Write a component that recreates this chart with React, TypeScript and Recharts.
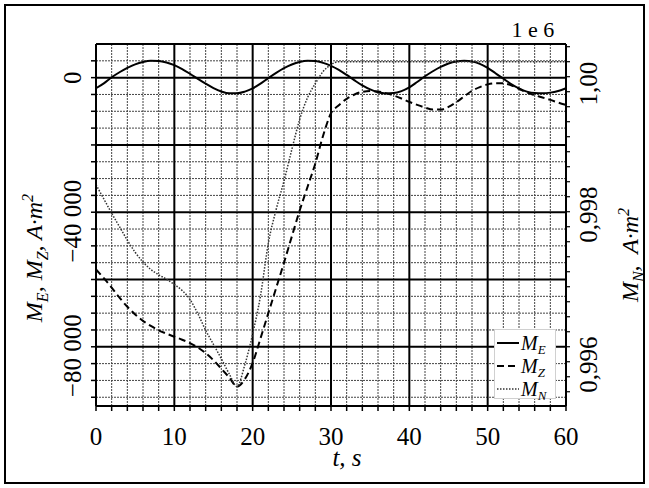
import React from 'react';
import { LineChart, Line, XAxis, YAxis, ReferenceLine, Legend, Label } from 'recharts';

const FONT = '"Liberation Serif", "Times New Roman", serif';

// time, s
const time = [
  0, 1, 2, 3, 4, 5, 6, 7, 8, 9, 10, 11, 12, 13, 14, 15, 16, 17, 18, 19, 20,
  21, 22, 23, 24, 25, 26, 27, 28, 29, 30, 31, 32, 33, 34, 35, 36, 37, 38, 39, 40,
  41, 42, 43, 44, 45, 46, 47, 48, 49, 50, 51, 52, 53, 54, 55, 56, 57, 58, 59, 60,
];

// M_E, A·m²
const mE = [
  -3150, -1700, 100, 1600, 2900, 3950, 4650, 5000, 4950, 4500, 3700,
  2550, 1150, -350, -1800, -3100, -4100, -4650, -4650, -4150, -3200,
  -1800, -150, 1400, 2800, 3900, 4650, 5000, 4950, 4400, 3500,
  2300, 800, -800, -2300, -3500, -4350, -4700, -4600, -4000, -2900,
  -1300, 400, 1900, 3200, 4200, 4800, 5000, 4800, 4100, 2900,
  1300, -300, -1900, -3200, -4150, -4600, -4650, -4450, -3950, -3150,
];

// M_Z, A·m²
const mZ = [
  -57000, -59600, -62400, -65400, -68100, -70400, -72300, -73800, -75100, -76100, -77000,
  -77900, -78900, -80200, -81900, -84000, -86500, -89100, -91800, -89600, -84800,
  -77500, -70000, -62500, -55000, -47200, -39500, -32500, -25500, -17200, -10600,
  -8200, -6300, -5000, -4200, -4000, -4100, -4600, -5300, -6200, -7200,
  -8100, -8900, -9500, -9500, -8700, -7300, -5600, -3900, -2800, -2000,
  -1700, -1700, -2300, -3300, -4400, -5200, -5900, -6600, -7400, -8100,
];

// M_N, ×1e6 A·m²
const mN = [
  0.99836, 0.99817, 0.99798, 0.9978, 0.99762, 0.99746, 0.99733, 0.99723, 0.99716, 0.9971, 0.99703,
  0.99695, 0.99683, 0.99664, 0.99642, 0.99623, 0.99604, 0.99584, 0.99567, 0.99596, 0.99637,
  0.99688, 0.99758, 0.99803, 0.99841, 0.99883, 0.99923, 0.99952, 0.99971, 0.99987, 0.99996,
  1, 1, 1, 1, 1, 1, 1, 1, 1, 1,
  1, 1, 1, 1, 1, 1, 1, 1, 1, 1,
  1, 1, 1, 1, 1, 1, 1, 1, 1, 1,
];

const xTicks = [0, 2, 4, 6, 8, 10, 12, 14, 16, 18, 20, 22, 24, 26, 28, 30, 32, 34, 36, 38, 40, 42, 44, 46, 48, 50, 52, 54, 56, 58, 60];
const xMajor = [0, 10, 20, 30, 40, 50, 60];
const xMinor = [2, 4, 6, 8, 12, 14, 16, 18, 22, 24, 26, 28, 32, 34, 36, 38, 42, 44, 46, 48, 52, 54, 56, 58];

const leftTicks = [5000, 0, -5000, -10000, -15000, -20000, -25000, -30000, -35000, -40000, -45000, -50000, -55000, -60000, -65000, -70000, -75000, -80000, -85000, -90000, -95000];
const leftLabels = [0, -40000, -80000];
const yMajor = [0, -20000, -40000, -60000, -80000];
const yMinor = [5000, -5000, -10000, -15000, -25000, -30000, -35000, -45000, -50000, -55000, -65000, -70000, -75000, -85000, -90000, -95000];

const rightTicks = [0.9956, 0.9958, 0.996, 0.9962, 0.9964, 0.9966, 0.9968, 0.997, 0.9972, 0.9974, 0.9976, 0.9978, 0.998, 0.9982, 0.9984, 0.9986, 0.9988, 0.999, 0.9992, 0.9994, 0.9996, 0.9998, 1, 1.0002];
const rightLabels = ['0,996', '0,998', '1,00'];
const rightLabelValues = [0.996, 0.998, 1];

const data = time.map((t, i) => ({ t, mE: mE[i], mZ: mZ[i], mN: mN[i] }));

const series = [
  { key: 'mE', sub: 'E', axis: 'left', dash: undefined, width: 2, color: '#000' },
  { key: 'mZ', sub: 'Z', axis: 'left', dash: '7 4', width: 2, color: '#000' },
  { key: 'mN', sub: 'N', axis: 'right', dash: '1.5 1.5', width: 1.5, color: '#333' },
];

const fmtThousands = (v: number) => {
  const s = String(Math.abs(v)).replace(/\B(?=(\d{3})+(?!\d))/g, ' ');
  return v < 0 ? '\u2212' + s : s;
};

const LeftTick = (props: any) => {
  const { x, y, payload } = props;
  const v = payload.value;
  if (!leftLabels.includes(v)) return <g />;
  return (
    <text transform={`translate(${x - 8}, ${y + (v === 0 ? 0 : 9)}) rotate(-90)`} textAnchor="middle"
      fontSize={25} fontFamily={FONT} fill="#000">
      {fmtThousands(v)}
    </text>
  );
};

const RightTick = (props: any) => {
  const { x, y, payload } = props;
  const idx = rightLabelValues.findIndex((l) => Math.abs(l - payload.value) < 1e-7);
  if (idx < 0) return <g />;
  const shift = idx === 2 ? 22 : 3;
  return (
    <text transform={`translate(${x + 25}, ${y + shift}) rotate(-90)`} textAnchor="middle"
      fontSize={25} fontFamily={FONT} fill="#000">
      {rightLabels[idx]}
    </text>
  );
};

const LeftTitle = ({ viewBox }: any) => (
  <text transform={`translate(${viewBox.x + 36}, ${viewBox.y + viewBox.height / 2 + 33}) rotate(-90)`}
    textAnchor="middle" fontSize={24} fontFamily={FONT} fontStyle="italic" fill="#000">
    M<tspan dy={6} fontSize={16}>E</tspan><tspan dy={-6}>, M</tspan><tspan dy={6} fontSize={16}>Z</tspan>
    <tspan dy={-6}>, A·m</tspan><tspan dy={-9} fontSize={16}>2</tspan>
  </text>
);

const RightTitle = ({ viewBox }: any) => (
  <g>
    <text transform={`translate(${viewBox.x + 72}, ${viewBox.y + viewBox.height / 2 + 30}) rotate(-90)`}
      textAnchor="middle" fontSize={24} fontFamily={FONT} fontStyle="italic" fill="#000"
      style={{ whiteSpace: 'pre' }}>
      M<tspan dy={6} fontSize={16}>N</tspan><tspan dy={-6}>,  A·m</tspan><tspan dy={-9} fontSize={16}>2</tspan>
    </text>
    <text x={viewBox.x - 33} y={viewBox.y - 7} textAnchor="middle" fontSize={22} fontFamily={FONT} fill="#000"
      style={{ whiteSpace: 'pre' }}>
      1 e 6
    </text>
  </g>
);

const XTitle = ({ viewBox }: any) => (
  <text x={viewBox.x + viewBox.width / 2 + 16} y={viewBox.y + 60} textAnchor="middle"
    fontSize={25} fontFamily={FONT} fontStyle="italic" fill="#000">
    t, s
  </text>
);

const LegendBox = () => (
  <div style={{ background: '#fff', border: '1px solid #d0d0d0', width: 62, height: 70, boxSizing: 'border-box',
    fontFamily: FONT, fontStyle: 'italic', fontSize: 20, color: '#000', paddingTop: 1 }}>
    {series.map((s) => (
      <div key={s.key} style={{ display: 'flex', alignItems: 'center', height: 23, lineHeight: '18px' }}>
        <svg width={24} height={10} style={{ marginLeft: 2, flex: 'none' }}>
          <line x1={0} y1={5} x2={22} y2={5} stroke={s.color} strokeWidth={s.width} strokeDasharray={s.dash} />
        </svg>
        <span style={{ lineHeight: '18px' }}>
          M<span style={{ fontSize: 13, position: 'relative', top: 4, lineHeight: '10px' }}>{s.sub}</span>
        </span>
      </div>
    ))}
  </div>
);

export default function App() {
  return (
    <div style={{ position: 'absolute', left: 0, top: 0, width: 649, height: 488, background: '#fff' }}>
      <div style={{ position: 'absolute', left: 4, top: 4, width: 641, height: 480, border: '2px solid #000', boxSizing: 'border-box' }} />
      <LineChart width={649} height={488} data={data} margin={{ top: 44, right: 0, bottom: 22, left: 6 }}>
        <XAxis dataKey="t" type="number" domain={[0, 60]} ticks={xTicks} interval={0} height={60}
          tickSize={5} tickMargin={16} axisLine={{ stroke: '#000', strokeWidth: 2 }} tickLine={{ stroke: '#000', strokeWidth: 1.5 }}
          tick={{ fontSize: 25, fill: '#000', fontFamily: FONT }}
          tickFormatter={(v: number) => (v % 10 === 0 ? String(v) : '')}>
          <Label content={XTitle} />
        </XAxis>
        <YAxis yAxisId="left" type="number" domain={[-97600, 10000]} allowDataOverflow ticks={leftTicks} interval={0}
          width={90} tickSize={5} tickMargin={2} axisLine={{ stroke: '#000', strokeWidth: 2 }}
          tickLine={{ stroke: '#000', strokeWidth: 1.5 }} tick={(p: any) => <LeftTick {...p} />}>
          <Label content={LeftTitle} />
        </YAxis>
        <YAxis yAxisId="right" orientation="right" type="number" domain={[0.99541, 1.000236]} allowDataOverflow
          ticks={rightTicks} interval={0} width={83} tickSize={4} tickMargin={2}
          axisLine={{ stroke: '#000', strokeWidth: 2 }} tickLine={{ stroke: '#000', strokeWidth: 1.2 }}
          tick={(p: any) => <RightTick {...p} />}>
          <Label content={RightTitle} />
        </YAxis>

        {xMinor.map((v) => (
          <ReferenceLine key={'xm' + v} x={v} yAxisId="left" stroke="#444" strokeWidth={1} strokeDasharray="2 1" />
        ))}
        {yMinor.map((v) => (
          <ReferenceLine key={'ym' + v} y={v} yAxisId="left" stroke="#444" strokeWidth={1} strokeDasharray="2 1" />
        ))}
        {xMajor.map((v) => (
          <ReferenceLine key={'xM' + v} x={v} yAxisId="left" stroke="#000" strokeWidth={2} />
        ))}
        {yMajor.map((v) => (
          <ReferenceLine key={'yM' + v} y={v} yAxisId="left" stroke="#000" strokeWidth={2} />
        ))}
        <ReferenceLine y={10000} yAxisId="left" stroke="#000" strokeWidth={2} />

        {series.map((s) => (
          <Line key={s.key} yAxisId={s.axis} dataKey={s.key} type="monotone" stroke={s.color}
            strokeWidth={s.width} strokeDasharray={s.dash} dot={false} isAnimationActive={false} />
        ))}
        <Legend layout="vertical" align="center" verticalAlign="middle" content={LegendBox}
          wrapperStyle={{ position: 'absolute', left: 494, top: 329, width: 62, height: 70 }} />
      </LineChart>
    </div>
  );
}
